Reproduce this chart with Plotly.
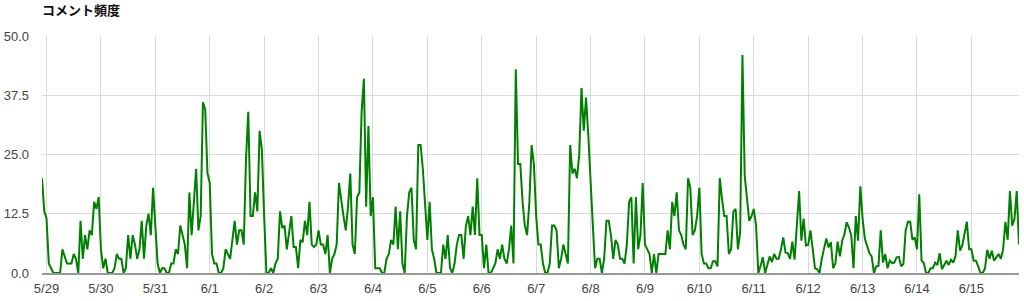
import pandas as pd
import plotly.graph_objects as go

title_text = "コメント頻度"

start_time = "2013-05-28 22:00"

# hourly comment counts
pre_0528 = [20, 13]
d_0529 = [11.5, 2, 1, 0, 0, 0, 0, 5, 3.5, 2, 2, 2, 4, 3, 0, 11, 3, 8, 5, 9, 8, 15, 13.5, 16]
d_0530 = [5, 1, 3, 0, 0, 0, 1, 4, 3, 3, 0, 1, 8, 3, 8, 6, 3, 5, 11, 3, 10, 12.5, 8, 18]
d_0531 = [10, 2, 0, 1, 1, 0, 0, 2, 2, 5, 4, 10, 8, 6, 1, 17, 8, 16, 22, 9, 12, 36, 34.5, 21]
d_0601 = [19, 4, 2, 2, 0, 0, 1, 5, 4, 3, 7, 11, 6, 9, 9, 6, 24, 34, 12, 12, 17, 13, 30, 26]
d_0602 = [12, 0, 0, 1, 0, 2, 3, 13, 9.5, 10, 5, 8, 12, 5.5, 5.5, 1, 7, 6.5, 11, 8, 15, 6, 5.5, 6]
d_0603 = [9, 6, 6, 4, 8, 0, 3, 4, 6, 19, 15, 12, 9, 14, 21, 6, 4, 16, 17, 34, 41, 14, 31, 12]
d_0604 = [16, 1, 1, 1, 0, 0, 3, 4, 7, 6, 14, 5, 13, 2, 0, 12, 17, 18, 7, 5, 27, 27, 22, 14]
d_0605 = [7, 15, 5, 3, 0, 0, 0, 6, 3, 8, 1, 0, 2, 6, 8, 8, 3, 10, 12, 8, 14, 8, 20, 8]
d_0606 = [8, 1, 6, 0, 0, 1, 2, 5, 3, 6, 3, 2, 5, 10, 2, 43, 23, 23, 15, 10, 8, 15, 27, 23]
d_0607 = [12, 6, 6, 2, 0, 0, 2, 10, 10, 9, 1, 3, 6, 4, 2, 27, 21, 22, 20, 25, 39, 30, 37, 29]
d_0608 = [18, 10, 1, 3, 3, 0, 3, 11, 11, 8, 3, 7, 6, 3, 3, 2, 6, 15, 16, 2, 16, 5, 8, 19]
d_0609 = [6, 5, 4, 0, 4, 0, 4, 4, 4, 4, 9, 5, 15, 12, 17, 9, 8, 6, 5, 20, 18, 8, 9, 12]
d_0610 = [18, 4, 2, 2, 1, 1, 2.5, 2.5, 1.4, 20, 15.6, 12, 12, 4, 5, 13, 13.5, 5, 8.6, 46, 20.5, 15, 11, 12]
d_0611 = [13.5, 10, 0, 1.5, 3.3, 0, 2, 3.5, 2.3, 4, 3, 3, 5, 7.5, 4.3, 4.2, 3, 6.6, 2.8, 11.4, 17.3, 6.8, 11.5, 5.8]
d_0612 = [5.9, 9, 5, 1, 0.8, 0, 3, 5, 7.3, 5.4, 6.5, 1, 2, 6.6, 3.5, 6.8, 8.2, 10.7, 9.6, 7.9, 1, 12, 6.8, 18.3]
d_0613 = [11.4, 7.2, 5.4, 4.2, 3.5, 0, 1.4, 1.5, 9, 2.2, 4, 1, 2.6, 2.1, 2.2, 3.3, 3.4, 1.4, 1.9, 9, 10.8, 10.8, 7, 7.5]
d_0614 = [5, 16.6, 2.6, 2.1, 0, 0, 1, 1, 2.2, 1.7, 4.2, 0.8, 1.7, 2.6, 1.7, 2.8, 2.2, 3.6, 9, 4.7, 5.8, 8.2, 10.8, 5]
d_0615 = [5, 2.6, 2.6, 1.4, 0, 0, 1, 4.9, 3, 4.7, 2.6, 3.3, 4, 3, 5, 10.8, 7, 17.3, 10, 11.4, 17.3, 6]

values = (pre_0528 + d_0529 + d_0530 + d_0531 + d_0601 + d_0602 + d_0603 + d_0604
          + d_0605 + d_0606 + d_0607 + d_0608 + d_0609 + d_0610 + d_0611 + d_0612
          + d_0613 + d_0614 + d_0615)

times = pd.date_range(start_time, periods=len(values), freq="h")

day_labels = ["5/29", "5/30", "5/31", "6/1", "6/2", "6/3", "6/4", "6/5", "6/6",
              "6/7", "6/8", "6/9", "6/10", "6/11", "6/12", "6/13", "6/14", "6/15"]
day_dates = pd.date_range("2013-05-29", periods=len(day_labels), freq="D")

y_ticks = [0, 12.5, 25, 37.5, 50]
y_tick_labels = ["0.0", "12.5", "25.0", "37.5", "50.0"]

fig = go.Figure()
fig.add_trace(go.Scatter(
    x=times, y=values, mode="lines",
    line=dict(color="#008000", width=2),
    hoverinfo="x+y",
))

tick_font = dict(family="Liberation Sans, Arial, sans-serif", size=13, color="#444444")

fig.update_layout(
    width=1024, height=301,
    margin=dict(l=42, r=5, t=36, b=28, autoexpand=False),
    paper_bgcolor="white", plot_bgcolor="white",
    showlegend=False,
    title=dict(
        text="<b>" + title_text + "</b>",
        font=dict(family="Noto Sans CJK JP, sans-serif", size=13, color="#111111"),
        xref="container", yref="container",
        x=42 / 1024, xanchor="left",
        y=1 - 10 / 301, yanchor="middle",
    ),
    xaxis=dict(
        range=[times[0], times[-1]],
        tickvals=day_dates, ticktext=day_labels,
        showgrid=True, gridcolor="#dadada", gridwidth=1,
        showline=True, linecolor="#999999", linewidth=2,
        ticks="", ticklabelstandoff=2,
        tickfont=tick_font, automargin=False,
        zeroline=False, fixedrange=True,
    ),
    yaxis=dict(
        range=[0, 50],
        tickvals=y_ticks, ticktext=y_tick_labels,
        showgrid=True, gridcolor="#dadada", gridwidth=1,
        ticks="", ticklabelstandoff=12,
        tickfont=tick_font, automargin=False,
        zeroline=False, showline=False, fixedrange=True,
    ),
)

fig.write_html("out.html")
